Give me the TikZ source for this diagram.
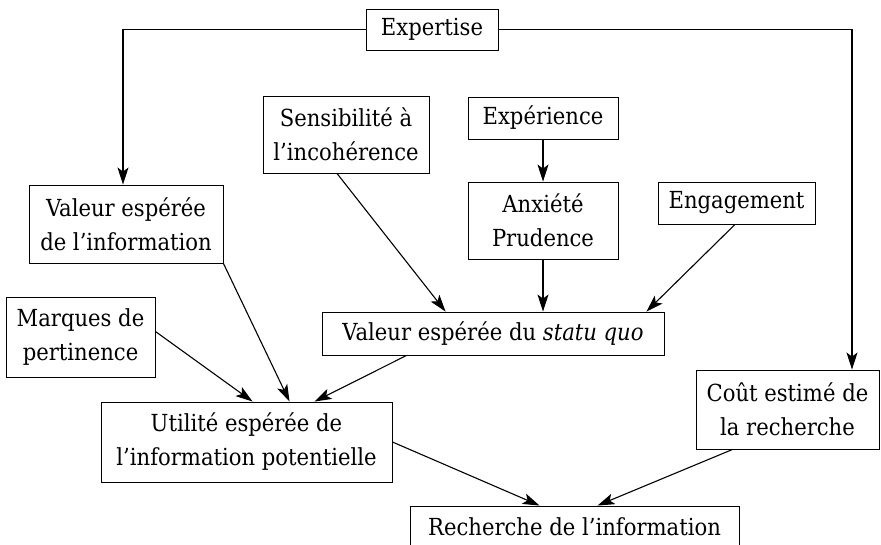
\documentclass[tikz,border=0pt]{standalone}
\usepackage{fontspec}
\setmainfont{DejaVu Serif Condensed}
\usetikzlibrary{arrows.meta}
\begin{document}
\begin{tikzpicture}[x=1pt,y=-1pt,
  box/.style={draw, line width=0.9pt, inner sep=0pt, align=center, font=\fontsize{23.5}{34}\selectfont},
  arr/.style={line width=1.1pt, -{Stealth[length=17pt,width=11pt,inset=4pt]}}]
\useasboundingbox (0,0) rectangle (881,545);
\node[box, minimum width=132pt, minimum height=41pt] (exp) at (432,29.5) {Expertise};
\node[box, minimum width=166pt, minimum height=77pt] (sens) at (346,134.5) {Sensibilité à\\l’incohérence};
\node[box, minimum width=150pt, minimum height=42pt] (xpc) at (543,118) {Expérience};
\node[box, minimum width=150pt, minimum height=77pt] (anx) at (543,220.5) {Anxiété\\Prudence};
\node[box, minimum width=157pt, minimum height=42pt] (eng) at (736.5,203) {Engagement};
\node[box, minimum width=194pt, minimum height=78pt] (vinfo) at (126,224) {Valeur espérée\\de l’information};
\node[box, minimum width=342pt, minimum height=43pt] (sq) at (493,333.5) {Valeur espérée du \textit{statu quo}};
\node[box, minimum width=149pt, minimum height=80pt] (marq) at (80.5,337) {Marques de\\pertinence};
\node[box, minimum width=291pt, minimum height=80pt] (util) at (246.5,442) {Utilité espérée de\\l’information potentielle};
\node[box, minimum width=183pt, minimum height=79pt] (cout) at (787.5,409.5) {Coût estimé de\\la recherche};
\node[box, minimum width=329pt, minimum height=42pt] (rech) at (574.5,527) {Recherche de l’information};
\draw[arr] (exp.west) -| ([xshift=-3pt]vinfo.north);
\draw[arr] (exp.east) -| ([xshift=64.5pt]cout.north);
\draw[arr] (xpc.south) -- (anx.north);
\draw[arr] ([xshift=-9pt]sens.south) -- ([xshift=124pt]sq.north west);
\draw[arr] (anx.south) -- (anx.south |- sq.north);
\draw[arr] ([xshift=-1.5pt]eng.south) -- ([xshift=-18pt]sq.north east);
\draw[arr] (vinfo.south east) -- ([xshift=189pt]util.north west);
\draw[arr] ([yshift=5.5pt]marq.east) -- ([xshift=152pt]util.north west);
\draw[arr] ([xshift=85pt]sq.south west) -- ([xshift=214pt]util.north west);
\draw[arr] (util.east) -- ([xshift=130pt]rech.north west);
\draw[arr] ([xshift=37pt]cout.south west) -- ([xshift=188pt]rech.north west);
\end{tikzpicture}
\end{document}
